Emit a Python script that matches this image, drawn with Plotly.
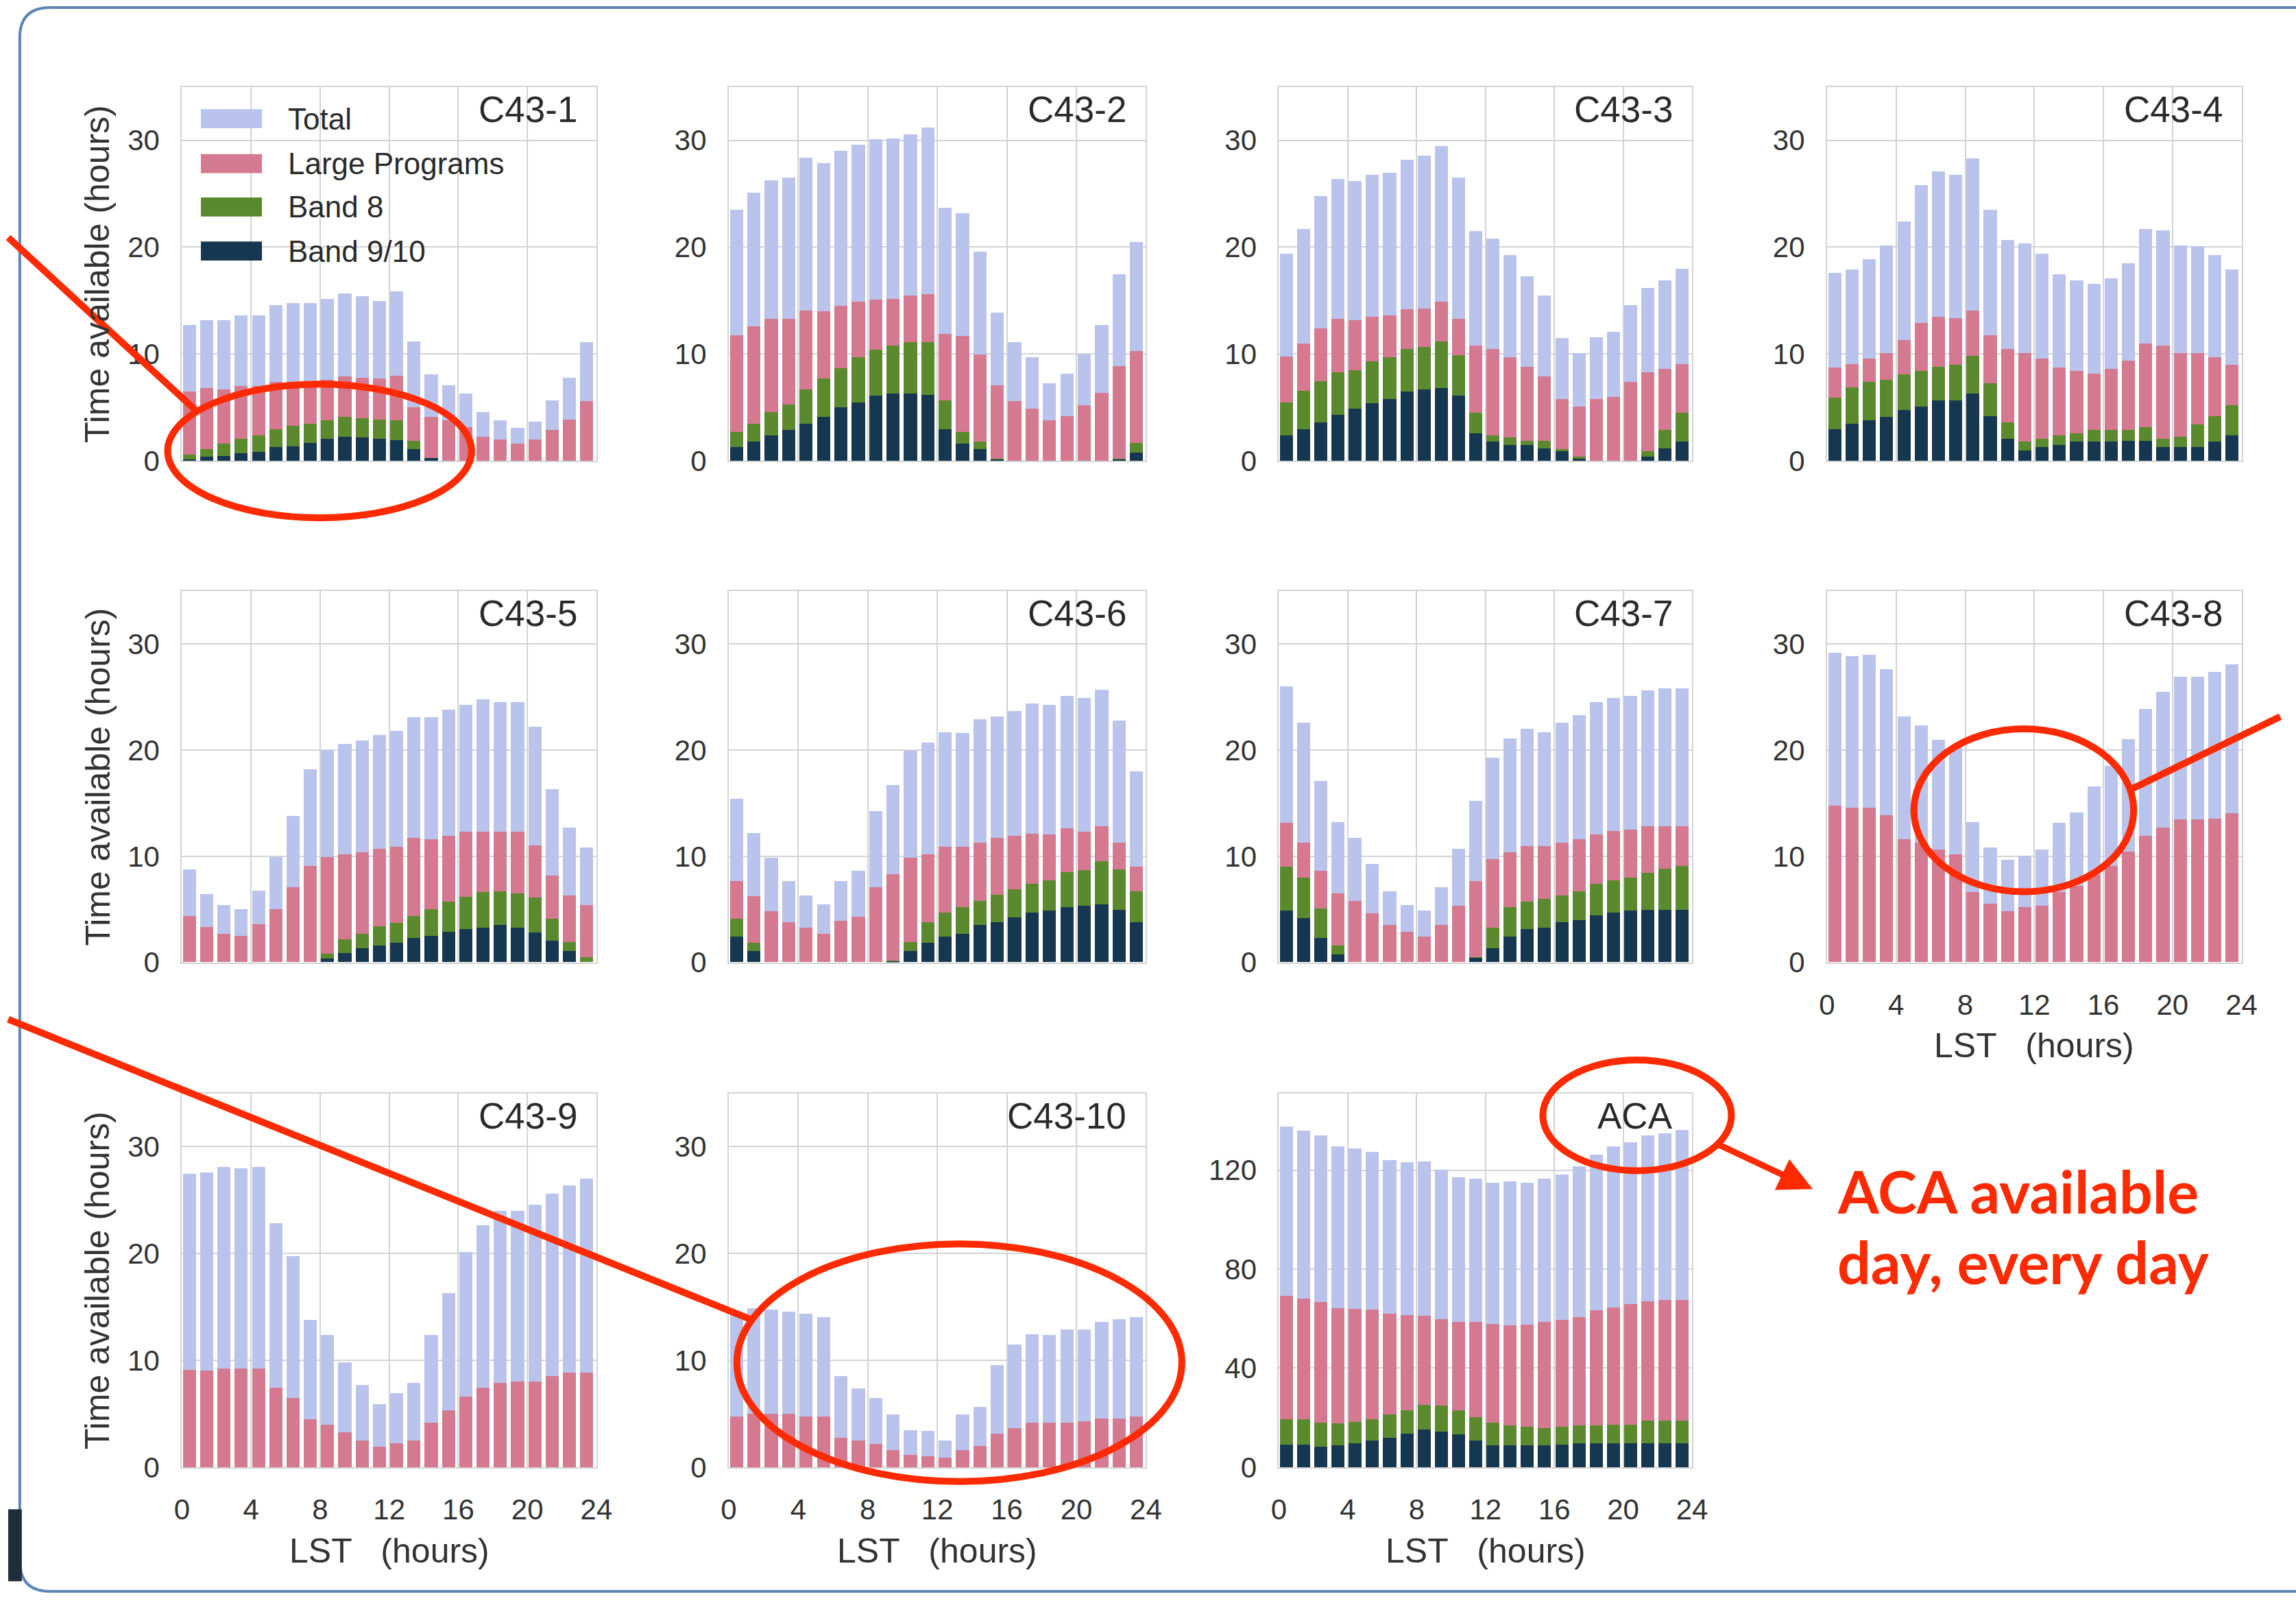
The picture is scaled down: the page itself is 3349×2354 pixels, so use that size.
import plotly.graph_objects as go

# ---------------------------------------------------------------------------
# Observing time available per LST hour for each array configuration
# ---------------------------------------------------------------------------
lst_hours = list(range(24))
x_tick_vals = [0, 4, 8, 12, 16, 20, 24]
c43_y_ticks = [0, 10, 20, 30]
aca_y_ticks = [0, 40, 80, 120]

series_names = ["Total", "Large Programs", "Band 8", "Band 9/10"]
panel_names = ["C43-1", "C43-2", "C43-3", "C43-4", "C43-5", "C43-6",
               "C43-7", "C43-8", "C43-9", "C43-10", "ACA"]

c43_1_total = [12.7, 13.2, 13.2, 13.6, 13.6, 14.6, 14.8, 14.8, 15.2, 15.7, 15.4, 15.0,
               15.9, 11.2, 8.1, 7.1, 6.3, 4.6, 3.8, 3.1, 3.7, 5.7, 7.8, 11.1]
c43_1_large = [6.5, 6.8, 6.7, 7.0, 7.0, 7.4, 7.4, 7.4, 7.6, 7.9, 7.8, 7.7,
               8.0, 5.0, 4.1, 3.8, 3.2, 2.3, 2.0, 1.6, 2.0, 2.9, 3.9, 5.6]
c43_1_band8 = [0.6, 1.1, 1.6, 2.1, 2.4, 3.0, 3.3, 3.5, 3.8, 4.1, 4.0, 3.9,
               3.8, 1.9, 0.3, 0, 0, 0, 0, 0, 0, 0, 0, 0]
c43_1_band910 = [0.15, 0.4, 0.5, 0.7, 0.85, 1.3, 1.4, 1.7, 2.1, 2.3, 2.2, 2.1,
                 1.95, 1.1, 0.25, 0, 0, 0, 0, 0, 0, 0, 0, 0]

c43_2_total = [23.5, 25.1, 26.3, 26.5, 28.4, 27.9, 29.0, 29.6, 30.1, 30.2, 30.6, 31.2,
               23.7, 23.2, 19.6, 13.9, 11.1, 9.7, 7.3, 8.2, 10.0, 12.7, 17.5, 20.5]
c43_2_large = [11.8, 12.6, 13.3, 13.3, 14.1, 14.0, 14.5, 14.9, 15.1, 15.2, 15.5, 15.6,
               11.9, 11.7, 10.0, 7.1, 5.6, 4.9, 3.8, 4.2, 5.2, 6.4, 8.9, 10.3]
c43_2_band8 = [2.7, 3.5, 4.6, 5.3, 6.7, 7.7, 8.7, 9.7, 10.4, 10.8, 11.1, 11.1,
               5.7, 2.7, 1.8, 0.2, 0, 0, 0, 0, 0, 0, 0.2, 1.7]
c43_2_band910 = [1.3, 1.8, 2.4, 2.9, 3.5, 4.1, 5.0, 5.5, 6.1, 6.3, 6.3, 6.2,
                 3.0, 1.6, 1.1, 0.15, 0, 0, 0, 0, 0, 0, 0.15, 0.8]

c43_3_total = [19.4, 21.7, 24.8, 26.4, 26.2, 26.8, 27.0, 28.2, 28.6, 29.5, 26.5, 21.5,
               20.8, 19.3, 17.3, 15.5, 11.5, 10.1, 11.6, 12.1, 14.6, 16.2, 16.9, 18.0]
c43_3_large = [9.8, 11.0, 12.4, 13.3, 13.2, 13.5, 13.6, 14.2, 14.3, 14.9, 13.3, 10.8,
               10.5, 9.7, 8.8, 7.9, 5.8, 5.1, 5.8, 6.0, 7.4, 8.3, 8.6, 9.1]
c43_3_band8 = [5.5, 6.6, 7.5, 8.3, 8.5, 9.3, 9.7, 10.5, 10.7, 11.2, 9.9, 4.5,
               2.4, 2.2, 1.9, 1.9, 1.1, 0.4, 0, 0, 0, 0.9, 2.9, 4.5]
c43_3_band910 = [2.4, 3.0, 3.6, 4.3, 4.9, 5.4, 5.8, 6.5, 6.7, 6.8, 6.1, 2.6,
                 1.8, 1.5, 1.5, 1.2, 0.9, 0.2, 0, 0, 0, 0.4, 1.2, 1.8]

c43_4_total = [17.6, 17.9, 18.9, 20.2, 22.4, 25.8, 27.1, 26.8, 28.3, 23.5, 20.7, 20.4,
               19.4, 17.5, 16.9, 16.6, 17.1, 18.5, 21.7, 21.6, 20.2, 20.1, 19.3, 17.9]
c43_4_large = [8.75, 9.1, 9.6, 10.1, 11.3, 12.9, 13.5, 13.4, 14.1, 11.8, 10.5, 10.1,
               9.6, 8.75, 8.4, 8.2, 8.6, 9.4, 11.0, 10.8, 10.1, 10.1, 9.7, 9.0]
c43_4_band8 = [5.9, 6.9, 7.4, 7.6, 8.1, 8.4, 8.8, 9.0, 9.85, 7.3, 3.6, 1.8,
               2.1, 2.4, 2.6, 2.9, 2.9, 2.9, 3.2, 2.1, 2.3, 3.4, 4.2, 5.2]
c43_4_band910 = [3.0, 3.5, 3.8, 4.1, 4.75, 5.1, 5.7, 5.7, 6.3, 4.2, 2.1, 1.0,
                 1.3, 1.5, 1.8, 1.8, 1.8, 1.9, 1.9, 1.3, 1.3, 1.3, 1.8, 2.4]

c43_5_total = [8.75, 6.4, 5.4, 5.0, 6.75, 9.9, 13.8, 18.2, 20.0, 20.6, 20.9, 21.4,
               21.8, 23.1, 23.1, 23.8, 24.3, 24.8, 24.5, 24.5, 22.2, 16.3, 12.7, 10.8]
c43_5_large = [4.35, 3.3, 2.7, 2.5, 3.6, 5.0, 7.1, 9.1, 9.9, 10.2, 10.4, 10.7,
               10.9, 11.7, 11.6, 11.9, 12.3, 12.3, 12.3, 12.3, 11.0, 8.2, 6.3, 5.4]
c43_5_band8 = [0, 0, 0, 0, 0, 0, 0, 0, 0.8, 2.15, 2.7, 3.4,
               3.7, 4.35, 5.0, 5.7, 6.2, 6.6, 6.7, 6.5, 6.1, 4.1, 1.9, 0.45]
c43_5_band910 = [0, 0, 0, 0, 0, 0, 0, 0, 0.35, 0.9, 1.35, 1.6,
                 1.85, 2.3, 2.5, 2.9, 3.1, 3.25, 3.5, 3.25, 2.8, 2.0, 1.05, 0]

c43_6_total = [15.4, 12.2, 9.85, 7.65, 6.3, 5.45, 7.65, 8.6, 14.25, 16.7, 19.95, 20.7,
               21.7, 21.6, 22.9, 23.2, 23.7, 24.4, 24.3, 25.1, 24.9, 25.7, 22.8, 18.0]
c43_6_large = [7.65, 6.25, 4.8, 3.75, 3.25, 2.7, 3.9, 4.3, 7.1, 8.3, 9.85, 10.2,
               10.9, 10.9, 11.3, 11.7, 11.9, 12.1, 12.05, 12.65, 12.3, 12.8, 11.3, 9.0]
c43_6_band8 = [4.1, 1.85, 0, 0, 0, 0, 0, 0, 0, 0.15, 1.9, 3.75,
               4.65, 5.2, 5.8, 6.35, 6.9, 7.4, 7.7, 8.5, 8.7, 9.5, 8.75, 6.7]
c43_6_band910 = [2.4, 1.05, 0, 0, 0, 0, 0, 0, 0, 0.1, 1.05, 1.85,
                 2.4, 2.7, 3.5, 3.75, 4.2, 4.65, 4.9, 5.2, 5.3, 5.45, 4.95, 3.75]

c43_7_total = [26.0, 22.6, 17.1, 13.2, 11.7, 9.3, 6.7, 5.4, 4.9, 7.1, 10.7, 15.2,
               19.3, 21.1, 22.0, 21.7, 22.6, 23.3, 24.5, 24.9, 25.1, 25.6, 25.8, 25.8]
c43_7_large = [13.15, 11.3, 8.6, 6.5, 5.8, 4.6, 3.5, 2.9, 2.45, 3.5, 5.3, 7.65,
               9.7, 10.4, 10.95, 10.95, 11.3, 11.6, 12.05, 12.35, 12.5, 12.85, 12.85, 12.85]
c43_7_band8 = [9.0, 7.95, 5.1, 1.6, 0, 0, 0, 0, 0, 0, 0, 0.5,
               3.25, 5.2, 5.7, 6.0, 6.3, 6.7, 7.4, 7.7, 7.95, 8.45, 8.8, 9.05]
c43_7_band910 = [4.9, 4.15, 2.3, 0.75, 0, 0, 0, 0, 0, 0, 0, 0.4,
                 1.3, 2.45, 3.1, 3.25, 3.75, 4.0, 4.4, 4.65, 4.9, 4.95, 4.95, 4.95]

c43_8_total = [29.2, 28.85, 29.0, 27.6, 23.15, 22.3, 20.95, 20.3, 13.2, 10.8, 9.65, 10.05,
               10.6, 13.15, 14.15, 16.6, 18.5, 21.05, 23.9, 25.5, 26.9, 26.9, 27.4, 28.1]
c43_8_large = [14.75, 14.6, 14.6, 13.85, 11.6, 11.3, 10.6, 10.15, 6.65, 5.5, 4.8, 5.2,
               5.3, 6.65, 7.2, 8.25, 9.1, 10.45, 11.9, 12.7, 13.5, 13.5, 13.55, 14.05]

c43_9_total = [27.5, 27.6, 28.15, 28.0, 28.15, 22.9, 19.8, 13.8, 12.4, 9.85, 7.7, 5.95,
               6.95, 7.9, 12.4, 16.3, 20.2, 22.7, 24.0, 24.05, 24.6, 25.6, 26.4, 27.05]
c43_9_large = [9.15, 9.05, 9.25, 9.25, 9.25, 7.45, 6.5, 4.5, 4.0, 3.3, 2.55, 1.95,
               2.25, 2.55, 4.2, 5.35, 6.65, 7.45, 7.9, 8.05, 8.05, 8.55, 8.85, 8.9]

c43_10_total = [14.6, 14.9, 14.8, 14.6, 14.4, 14.1, 8.55, 7.4, 6.5, 4.95, 3.5, 3.4,
                2.5, 4.95, 5.65, 9.6, 11.5, 12.5, 12.4, 12.9, 12.9, 13.6, 13.9, 14.1]
c43_10_large = [4.8, 5.0, 5.0, 5.0, 4.8, 4.8, 2.8, 2.5, 2.2, 1.65, 1.2, 1.05,
                0.9, 1.65, 2.0, 3.15, 3.7, 4.2, 4.2, 4.2, 4.3, 4.55, 4.55, 4.8]

aca_total = [137.8, 136.0, 134.0, 129.7, 128.9, 127.4, 124.2, 123.3, 123.6, 120.4, 117.2, 116.6,
             115.0, 115.7, 115.0, 116.6, 118.2, 121.7, 126.4, 129.7, 131.4, 134.0, 135.0, 136.2]
aca_large = [69.3, 68.1, 66.8, 64.3, 64.0, 63.8, 62.1, 61.5, 61.2, 59.9, 58.7, 58.7,
             57.9, 57.4, 57.7, 58.7, 59.6, 60.8, 63.4, 64.6, 65.9, 67.2, 67.8, 67.6]
aca_band8 = [19.6, 19.4, 18.1, 17.7, 18.4, 19.6, 21.5, 23.2, 25.3, 25.0, 23.2, 20.3,
             18.1, 16.9, 16.5, 15.8, 16.5, 16.9, 17.1, 17.4, 17.4, 19.0, 19.0, 19.0]
aca_band910 = [9.25, 9.25, 8.5, 8.9, 9.8, 10.8, 12.0, 13.6, 15.2, 14.6, 13.3, 10.8,
               8.9, 8.9, 8.9, 8.9, 9.25, 9.8, 9.8, 9.8, 9.8, 9.8, 9.8, 9.8]

panel_series = [
    [c43_1_total, c43_1_large, c43_1_band8, c43_1_band910],
    [c43_2_total, c43_2_large, c43_2_band8, c43_2_band910],
    [c43_3_total, c43_3_large, c43_3_band8, c43_3_band910],
    [c43_4_total, c43_4_large, c43_4_band8, c43_4_band910],
    [c43_5_total, c43_5_large, c43_5_band8, c43_5_band910],
    [c43_6_total, c43_6_large, c43_6_band8, c43_6_band910],
    [c43_7_total, c43_7_large, c43_7_band8, c43_7_band910],
    [c43_8_total, c43_8_large],
    [c43_9_total, c43_9_large],
    [c43_10_total, c43_10_large],
    [aca_total, aca_large, aca_band8, aca_band910],
]

# ---------------------------------------------------------------------------
# Styling
# ---------------------------------------------------------------------------
W, H = 3349, 2354
FONT = "Liberation Sans, Arial, sans-serif"
TEXT = "#333333"
GRID = "#d3d3d3"
RED = "#ff2a00"
series_colors = ["#bac3eb", "#d4798f", "#5b8a2e", "#15374f"]

# pixel extents of the subplot grid
col_px = [(256, 867), (1062, 1677), (1873, 2482), (2681, 3292)]
row_px = [(128, 679), (871, 1418), (1611, 2162)]


def px(x):
    return x / W


def py(y):
    return 1 - y / H


fig = go.Figure()
layout = {}
annotations = []
shapes = []

for k, name in enumerate(panel_names):
    i = k + 1
    r, c = divmod(k, 4)
    xs = "x" if i == 1 else f"x{i}"
    ys = "y" if i == 1 else f"y{i}"
    for s, vals in enumerate(panel_series[k]):
        fig.add_trace(go.Bar(
            x=lst_hours, y=vals, xaxis=xs, yaxis=ys,
            width=0.76, offset=0.07,
            marker=dict(color=series_colors[s], line=dict(width=0)),
            name=series_names[s], showlegend=False,
        ))

    is_aca = name == "ACA"
    show_x = k >= 7
    layout["xaxis" if i == 1 else f"xaxis{i}"] = dict(
        domain=[px(col_px[c][0]), px(col_px[c][1])],
        anchor=ys, range=[0, 24], tickvals=x_tick_vals,
        showgrid=True, gridcolor=GRID, gridwidth=2,
        showline=True, linecolor=GRID, linewidth=2, mirror=True,
        zeroline=False, ticks="", showticklabels=show_x,
        ticklabelstandoff=24,
        tickfont=dict(size=42, color=TEXT, family=FONT),
    )
    layout["yaxis" if i == 1 else f"yaxis{i}"] = dict(
        domain=[py(row_px[r][1]), py(row_px[r][0])],
        anchor=xs, range=[0, 151] if is_aca else [0, 35],
        tickvals=aca_y_ticks if is_aca else c43_y_ticks,
        showgrid=True, gridcolor=GRID, gridwidth=2,
        showline=True, linecolor=GRID, linewidth=2, mirror=True,
        zeroline=False, ticks="", ticklabelstandoff=22,
        tickfont=dict(size=42, color=TEXT, family=FONT),
    )

    # configuration name in the upper-right corner
    annotations.append(dict(
        text=name, xref=f"{xs} domain", yref=f"{ys} domain",
        x=1, y=0.94, xanchor="right", yanchor="middle", xshift=-26,
        showarrow=False, font=dict(size=53, color="#2a2a2a", family=FONT),
    ))

    if c == 0:
        annotations.append(dict(
            text="Time available (hours)", xref="paper", yref="paper",
            x=px(132), y=py((row_px[r][0] + row_px[r][1]) / 2),
            xanchor="center", yanchor="middle", textangle=-90,
            showarrow=False, font=dict(size=50, color=TEXT, family=FONT),
        ))
    if show_x:
        annotations.append(dict(
            text="LST\u00a0\u00a0 (hours)", xref="paper", yref="paper",
            x=px((col_px[c][0] + col_px[c][1]) / 2), y=py(row_px[r][1] + 123),
            xanchor="center", yanchor="middle",
            showarrow=False, font=dict(size=50, color=TEXT, family=FONT),
        ))

# legend drawn inside the first panel
legend_rows_y = [175, 241, 305, 370]
for s, name in enumerate(series_names):
    yc = legend_rows_y[s]
    shapes.append(dict(
        type="rect", xref="paper", yref="paper",
        x0=px(284), x1=px(374), y0=py(yc + 14), y1=py(yc - 14),
        fillcolor=series_colors[s], line=dict(width=0),
    ))
    annotations.append(dict(
        text=name, xref="paper", yref="paper", x=px(410), y=py(yc),
        xanchor="left", yanchor="middle", showarrow=False,
        font=dict(size=44, color="#2a2a2a", family=FONT),
    ))

# slide frame with rounded left corners
xl, yt, yb = px(17), py(11), py(2345)
rx, ry = 45 / W, 45 / H
shapes.append(dict(
    type="path", xref="paper", yref="paper",
    path=(f"M 1.02,{yt} L {xl + rx},{yt} Q {xl},{yt} {xl},{yt - ry} "
          f"L {xl},{yb + ry} Q {xl},{yb} {xl + rx},{yb} L 1.02,{yb}"),
    line=dict(color="#5b86b4", width=4),
))
shapes.append(dict(
    type="rect", xref="paper", yref="paper",
    x0=0, x1=px(20), y0=py(2330), y1=py(2224),
    fillcolor="#1f2c3a", line=dict(width=0),
))

# red call-outs
red_line = dict(color=RED, width=10)
for (x0, y0, x1, y1) in [(235, 566, 683, 763), (2809, 1074, 3133, 1314),
                         (1074, 1833, 1730, 2183), (2262, 1562, 2540, 1725)]:
    shapes.append(dict(type="circle", xref="paper", yref="paper",
                       x0=px(x0), x1=px(x1), y0=py(y1), y1=py(y0), line=red_line))
for (x0, y0, x1, y1) in [(0, 350, 278, 606), (3129, 1163, 3349, 1056),
                         (0, 1502, 1094, 1944)]:
    shapes.append(dict(type="line", xref="paper", yref="paper",
                       x0=px(x0), y0=py(y0), x1=px(x1), y1=py(y1), line=red_line))

annotations.append(dict(
    text="", xref="paper", yref="paper", axref="pixel", ayref="pixel",
    x=px(2660), y=py(1752), ax=-140, ay=-66,
    showarrow=True, arrowhead=2, arrowsize=1.1, arrowwidth=9, arrowcolor=RED,
))
for txt, yc in [("ACA available", 1754), ("day, every day", 1858)]:
    annotations.append(dict(
        text=txt, xref="paper", yref="paper", x=px(2694), y=py(yc),
        xanchor="left", yanchor="middle", showarrow=False,
        font=dict(size=86, color=RED, family="Lato, Liberation Sans, sans-serif", weight="bold"),
    ))

fig.update_layout(
    width=W, height=H, margin=dict(l=0, r=0, t=0, b=0),
    paper_bgcolor="white", plot_bgcolor="white",
    barmode="overlay", bargap=0,
    annotations=annotations, shapes=shapes,
    **layout,
)

fig.write_html("out.html")
